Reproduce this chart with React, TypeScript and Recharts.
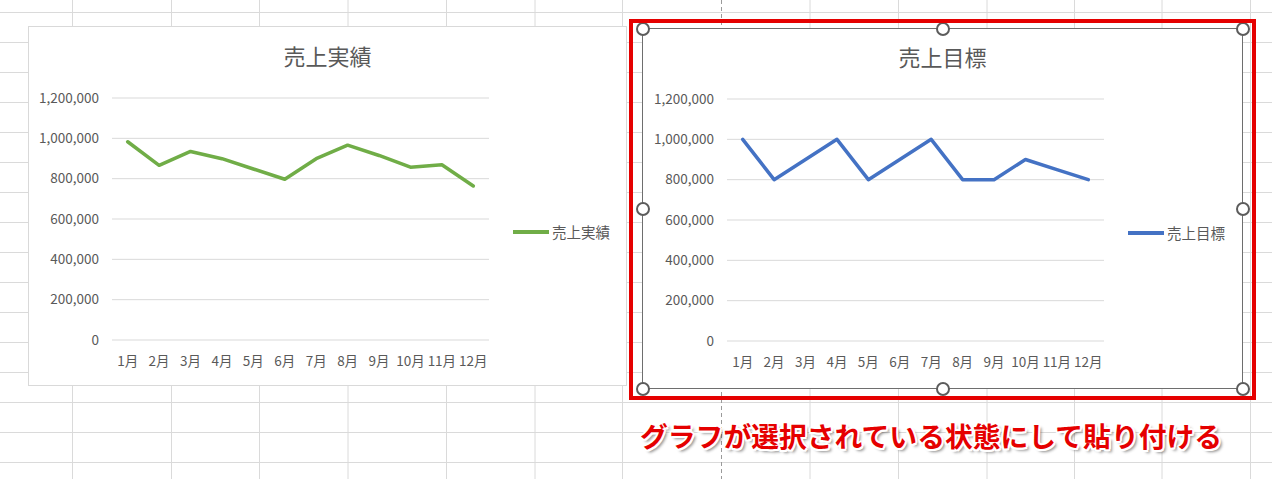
import { LineChart, Line, XAxis, YAxis, CartesianGrid, Legend } from 'recharts';

const months = ['1月', '2月', '3月', '4月', '5月', '6月', '7月', '8月', '9月', '10月', '11月', '12月'];
const actualSales = [983000, 866000, 935000, 899000, 848000, 797000, 899000, 966000, 915000, 857000, 869000, 764000];
const targetSales = [1000000, 800000, 900000, 1000000, 800000, 900000, 1000000, 800000, 800000, 900000, 850000, 800000];
const yTicks = [0, 200000, 400000, 600000, 800000, 1000000, 1200000];

const FONT = '"Noto Sans CJK JP", "Noto Sans", sans-serif';
const TEXT = '#595959';
const COLORS = {
  green: '#70ad47',
  blue: '#4472c4',
  red: '#e50000',
  sheetGrid: '#dadada',
  chartGrid: '#d9d9d9',
};

const chartData = months.map((month, i) => ({
  month,
  actual: actualSales[i],
  target: targetSales[i],
}));

// sheet cell borders behind the charts
const colLines = [72.5, 171.5, 259.5, 348, 446.5, 535, 622.5, 810, 898.5, 987, 1074.5, 1162, 1250.5];
const rowLines = [12, 42, 72, 102, 132, 162, 192, 222, 252, 282, 312, 342, 372, 402, 432, 462];

const renderLegend = (props: any) => {
  const { payload } = props;
  return (
    <div>
      {(payload || []).map((entry: any) => (
        <div
          key={entry.value}
          style={{
            display: 'flex',
            alignItems: 'center',
            fontSize: 14.5,
            color: TEXT,
            fontFamily: FONT,
            whiteSpace: 'nowrap',
            lineHeight: '20px',
          }}
        >
          <span style={{ display: 'inline-block', width: 36, height: 3.5, background: entry.color, marginRight: 3 }} />
          {entry.value}
        </div>
      ))}
    </div>
  );
};

interface SalesChartProps {
  title: string;
  dataKey: string;
  color: string;
}

const SalesChart = ({ title, dataKey, color }: SalesChartProps) => (
  <div style={{ position: 'relative', width: 599, height: 360 }}>
    <div
      style={{
        position: 'absolute',
        left: 0,
        top: 18,
        width: 599,
        textAlign: 'center',
        fontSize: 22,
        lineHeight: 1,
        color: TEXT,
        fontFamily: FONT,
      }}
    >
      {title}
    </div>
    <LineChart width={599} height={360} data={chartData} margin={{ top: 72, right: 138, bottom: 0, left: 0 }}>
      <CartesianGrid horizontal vertical={false} stroke={COLORS.chartGrid} strokeWidth={1} />
      <XAxis
        dataKey="month"
        height={46}
        axisLine={false}
        tickLine={false}
        tickSize={0}
        tickMargin={16}
        interval={0}
        padding={{ left: 15.7, right: 15.7 }}
        tick={{ fill: TEXT, fontSize: 13.5, fontFamily: FONT }}
      />
      <YAxis
        width={84}
        domain={[0, 1200000]}
        ticks={yTicks}
        axisLine={false}
        tickLine={false}
        tickSize={0}
        tickMargin={13}
        tickFormatter={(v: number) => v.toLocaleString('en-US')}
        tick={{ fill: TEXT, fontSize: 13.5, fontFamily: FONT }}
      />
      <Legend
        layout="vertical"
        align="center"
        verticalAlign="middle"
        content={renderLegend}
        wrapperStyle={{ left: 485, top: 196 }}
      />
      <Line
        type="linear"
        dataKey={dataKey}
        name={title}
        stroke={color}
        strokeWidth={3.5}
        strokeLinecap="round"
        strokeLinejoin="round"
        dot={false}
        activeDot={false}
        isAnimationActive={false}
      />
    </LineChart>
  </div>
);

const handlePoints = [
  [642.5, 28.5], [942.5, 28.5], [1242.5, 28.5],
  [642.5, 208.5], [1242.5, 208.5],
  [642.5, 388.5], [942.5, 388.5], [1242.5, 388.5],
];

export default function App() {
  return (
    <div
      style={{
        position: 'absolute',
        left: 0,
        top: 0,
        width: 1272,
        height: 479,
        background: '#ffffff',
        overflow: 'hidden',
      }}
    >
      <svg width={1272} height={479} style={{ position: 'absolute', left: 0, top: 0 }}>
        {colLines.map((x) => (
          <line key={`c-${x}`} x1={x} x2={x} y1={0} y2={479} stroke={COLORS.sheetGrid} strokeWidth={1} />
        ))}
        {rowLines.map((y) => (
          <line key={`r-${y}`} x1={0} x2={1272} y1={y + 0.5} y2={y + 0.5} stroke={COLORS.sheetGrid} strokeWidth={1} />
        ))}
        <line x1={721.5} x2={721.5} y1={0} y2={479} stroke="#9a9a9a" strokeWidth={1} strokeDasharray="4 3" />
      </svg>

      {/* left chart */}
      <div style={{ position: 'absolute', left: 28, top: 26, background: '#ffffff' }}>
        <SalesChart title="売上実績" dataKey="actual" color={COLORS.green} />
        <div
          style={{
            position: 'absolute',
            left: 0,
            top: 0,
            width: 599,
            height: 360,
            boxSizing: 'border-box',
            border: '1px solid #d9d9d9',
            pointerEvents: 'none',
          }}
        />
      </div>

      {/* right chart, selected */}
      <div style={{ position: 'absolute', left: 643, top: 29, width: 599, height: 359, background: '#ffffff' }} />
      <div style={{ position: 'absolute', left: 643, top: 27 }}>
        <SalesChart title="売上目標" dataKey="target" color={COLORS.blue} />
      </div>
      <div
        style={{
          position: 'absolute',
          left: 642,
          top: 28,
          width: 601,
          height: 361,
          boxSizing: 'border-box',
          border: '1px solid #6e6e6e',
        }}
      />
      {handlePoints.map(([x, y]) => (
        <div
          key={`h-${x}-${y}`}
          style={{
            position: 'absolute',
            left: x - 7,
            top: y - 7,
            width: 14,
            height: 14,
            boxSizing: 'border-box',
            borderRadius: '50%',
            border: '2.5px solid #5c5c5c',
            background: '#ffffff',
          }}
        />
      ))}
      <div
        style={{
          position: 'absolute',
          left: 629,
          top: 19,
          width: 627,
          height: 381,
          boxSizing: 'border-box',
          border: `4.5px solid ${COLORS.red}`,
        }}
      />

      <div
        style={{
          position: 'absolute',
          left: 640,
          top: 422,
          fontSize: 27.8,
          lineHeight: 1,
          fontWeight: 700,
          fontFamily: FONT,
          color: COLORS.red,
          whiteSpace: 'nowrap',
          textShadow:
            '2px 0 0 #fff, -2px 0 0 #fff, 0 2px 0 #fff, 0 -2px 0 #fff, 1.5px 1.5px 0 #fff, -1.5px 1.5px 0 #fff, 1.5px -1.5px 0 #fff, -1.5px -1.5px 0 #fff, 3px 3px 3px rgba(0,0,0,0.45)',
        }}
      >
        グラフが選択されている状態にして貼り付ける
      </div>
    </div>
  );
}
